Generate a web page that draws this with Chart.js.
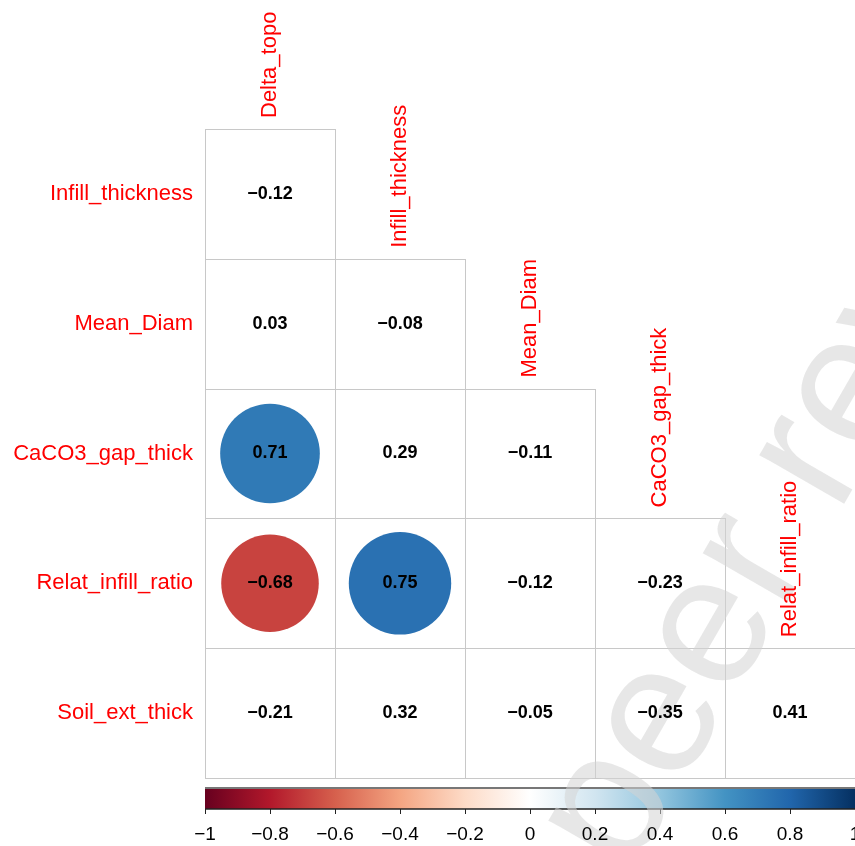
<!DOCTYPE html>
<html>
<head>
<meta charset="utf-8">
<script src="https://cdn.jsdelivr.net/npm/chart.js@4.4.1/dist/chart.umd.min.js"></script>
<style>
  html, body { margin: 0; padding: 0; background: #ffffff; }
  #wrap { width: 855px; height: 846px; }
</style>
</head>
<body>
<div id="wrap"><canvas id="c" width="855" height="846"></canvas></div>
<script>
// ---------------- DATA ----------------
const rowLabels = ['Infill_thickness', 'Mean_Diam', 'CaCO3_gap_thick', 'Relat_infill_ratio', 'Soil_ext_thick'];
const colLabels = ['Delta_topo', 'Infill_thickness', 'Mean_Diam', 'CaCO3_gap_thick', 'Relat_infill_ratio'];
const rInfillThickness = [-0.12];
const rMeanDiam = [0.03, -0.08];
const rCaCO3GapThick = [0.71, 0.29, -0.11];
const rRelatInfillRatio = [-0.68, 0.75, -0.12, -0.23];
const rSoilExtThick = [-0.21, 0.32, -0.05, -0.35, 0.41];
const sigInfillThickness = [false];
const sigMeanDiam = [false, false];
const sigCaCO3GapThick = [true, false, false];
const sigRelatInfillRatio = [true, true, false, false];
const sigSoilExtThick = [false, false, false, false, false];
const legendTicks = [-1, -0.8, -0.6, -0.4, -0.2, 0, 0.2, 0.4, 0.6, 0.8, 1];
const paletteRdBu = ['#67001F', '#B2182B', '#D6604D', '#F4A582', '#FDDBC7', '#FFFFFF',
                     '#D1E5F0', '#92C5DE', '#4393C3', '#2166AC', '#053061'];
const watermarkText = 'peer review';

const corrRows = [rInfillThickness, rMeanDiam, rCaCO3GapThick, rRelatInfillRatio, rSoilExtThick];
const sigRows = [sigInfillThickness, sigMeanDiam, sigCaCO3GapThick, sigRelatInfillRatio, sigSoilExtThick];

// ---------------- helpers ----------------
function hexToRgb(h) {
  return [parseInt(h.substr(1, 2), 16), parseInt(h.substr(3, 2), 16), parseInt(h.substr(5, 2), 16)];
}
function colorFor(v) {
  const t = (v + 1) / 2 * (paletteRdBu.length - 1);
  const i = Math.min(paletteRdBu.length - 2, Math.floor(t));
  const f = t - i;
  const a = hexToRgb(paletteRdBu[i]), b = hexToRgb(paletteRdBu[i + 1]);
  const c = a.map((x, k) => Math.round(x + (b[k] - x) * f));
  return 'rgb(' + c.join(',') + ')';
}
function fmt(v) {
  const s = Math.abs(v).toFixed(2);
  return (v < 0 ? '\u2212' : '') + s;
}
function fmtTick(v) {
  const s = String(Math.round(Math.abs(v) * 10) / 10);
  return (v < 0 ? '\u2212' : '') + s;
}

const sigPoints = [];
corrRows.forEach((row, r) => row.forEach((v, c) => {
  if (sigRows[r][c]) sigPoints.push({ x: c + 0.5, y: r + 0.5, v: v });
}));

const FONT = "'Liberation Sans', Arial, sans-serif";

const corrPlugin = {
  id: 'corr',
  beforeDatasetsDraw(chart) {
    const ctx = chart.ctx, xs = chart.scales.x, ys = chart.scales.y;
    ctx.save();
    ctx.strokeStyle = '#c8c8c8';
    ctx.lineWidth = 1;
    corrRows.forEach((row, r) => row.forEach((v, c) => {
      const x0 = Math.round(xs.getPixelForValue(c)) + 0.5;
      const x1 = Math.round(xs.getPixelForValue(c + 1)) + 0.5;
      const y0 = Math.round(ys.getPixelForValue(r)) + 0.5;
      const y1 = Math.round(ys.getPixelForValue(r + 1)) + 0.5;
      ctx.strokeRect(x0, y0, x1 - x0, y1 - y0);
    }));
    // significant circles: centres from the library's point elements, size from the scale
    const meta = chart.getDatasetMeta(0);
    const cellW = xs.getPixelForValue(1) - xs.getPixelForValue(0);
    meta.data.forEach((el, i) => {
      const v = sigPoints[i].v;
      const rad = Math.sqrt(Math.abs(v)) * 0.455 * cellW;
      ctx.beginPath();
      ctx.arc(el.x, el.y, rad, 0, Math.PI * 2);
      ctx.fillStyle = colorFor(v);
      ctx.fill();
    });
    ctx.restore();
  },
  afterDatasetsDraw(chart) {
    const ctx = chart.ctx, xs = chart.scales.x, ys = chart.scales.y;
    const cbX = v => xs.getPixelForValue((v + 1) / 2 * 5);
    const cbTop = ys.getPixelForValue(5) + 10, cbBot = cbTop + 21;
    ctx.save();
    // colour legend
    const g = ctx.createLinearGradient(cbX(-1), 0, cbX(1), 0);
    paletteRdBu.forEach((col, i) => g.addColorStop(i / (paletteRdBu.length - 1), col));
    ctx.fillStyle = g;
    ctx.fillRect(cbX(-1), cbTop, cbX(1) - cbX(-1), cbBot - cbTop);
    ctx.strokeStyle = '#777777';
    ctx.lineWidth = 2;
    ctx.beginPath(); ctx.moveTo(cbX(-1), cbTop); ctx.lineTo(cbX(1), cbTop); ctx.stroke();
    ctx.strokeStyle = '#222222';
    ctx.lineWidth = 1.5;
    ctx.beginPath(); ctx.moveTo(cbX(-1), cbBot); ctx.lineTo(cbX(1), cbBot); ctx.stroke();
    ctx.lineWidth = 1;
    legendTicks.forEach(t => {
      const x = Math.round(cbX(t)) + 0.5;
      ctx.beginPath(); ctx.moveTo(x, cbBot); ctx.lineTo(x, cbBot + 5); ctx.stroke();
    });

    // watermark
    ctx.save();
    ctx.translate(627, 880);
    ctx.rotate(-60 * Math.PI / 180);
    ctx.font = '185px ' + FONT;
    ctx.fillStyle = 'rgba(212,212,212,0.55)';
    ctx.textAlign = 'left';
    ctx.textBaseline = 'alphabetic';
    ctx.fillText(watermarkText, 0, 0);
    ctx.restore();

    // legend tick labels
    ctx.fillStyle = '#000000';
    ctx.font = '19px ' + FONT;
    ctx.textAlign = 'center';
    ctx.textBaseline = 'middle';
    legendTicks.forEach(t => {
      ctx.fillText(fmtTick(t), cbX(t), cbBot + 26);
    });

    // correlation values
    ctx.font = 'bold 18px ' + FONT;
    ctx.fillStyle = '#000000';
    corrRows.forEach((row, r) => row.forEach((v, c) => {
      ctx.fillText(fmt(v), xs.getPixelForValue(c + 0.5), ys.getPixelForValue(r + 0.5));
    }));

    // row labels
    ctx.fillStyle = '#FF0000';
    ctx.font = '22px ' + FONT;
    ctx.textAlign = 'right';
    rowLabels.forEach((lab, r) => {
      ctx.fillText(lab, xs.getPixelForValue(0) - 12, ys.getPixelForValue(r + 0.5));
    });
    // column labels
    ctx.textAlign = 'left';
    colLabels.forEach((lab, c) => {
      ctx.save();
      ctx.translate(xs.getPixelForValue(c + 0.5), ys.getPixelForValue(c) - 11);
      ctx.rotate(-Math.PI / 2);
      ctx.fillText(lab, 0, 0);
      ctx.restore();
    });
    ctx.restore();
  }
};

new Chart(document.getElementById('c'), {
  type: 'scatter',
  data: {
    datasets: [{
      data: sigPoints,
      pointRadius: 0,
      pointHoverRadius: 0,
      backgroundColor: 'rgba(0,0,0,0)',
      borderWidth: 0
    }]
  },
  options: {
    responsive: false,
    animation: false,
    events: [],
    layout: { padding: { left: 205, top: 129, right: 0, bottom: 68 } },
    scales: {
      x: { type: 'linear', min: 0, max: 5, display: false },
      y: { type: 'linear', min: 0, max: 5, reverse: true, display: false }
    },
    plugins: { legend: { display: false }, tooltip: { enabled: false } }
  },
  plugins: [corrPlugin]
});
</script>
</body>
</html>
